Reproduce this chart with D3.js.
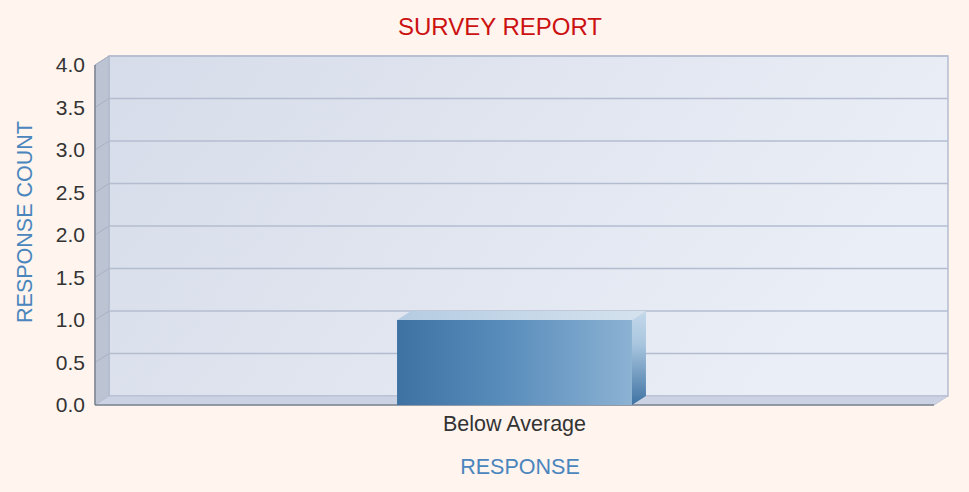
<!DOCTYPE html>
<html><head><meta charset="utf-8">
<script src="https://cdn.jsdelivr.net/npm/d3@7"></script>
<style>html,body{margin:0;padding:0;background:#fff4ee;}svg{display:block;}</style>
</head><body>
<svg id="c" width="969" height="492"></svg>
<script>
const categories = ["Below Average"];
const values = [1];
const yTicks = [0, 0.5, 1, 1.5, 2, 2.5, 3, 3.5, 4];
const title = "SURVEY REPORT";
const xTitle = "RESPONSE";
const yTitle = "RESPONSE COUNT";

const svg = d3.select("#c");
const W = 969, H = 492;
const L = 95, R = 934, T = 65, B = 405;
const DX = 14, DY = -9;
const FONT = "Liberation Sans, Arial, sans-serif";

svg.append("rect").attr("x",0).attr("y",0).attr("width",W).attr("height",H).attr("fill","#fff4ee");

const defs = svg.append("defs");
const gw = defs.append("linearGradient").attr("id","wall").attr("x1","0").attr("y1","0").attr("x2","1").attr("y2","0.3");
gw.append("stop").attr("offset","0").attr("stop-color","#d6dce9");
gw.append("stop").attr("offset","1").attr("stop-color","#eaeef6");
const gf = defs.append("linearGradient").attr("id","front").attr("x1","0").attr("y1","0").attr("x2","1").attr("y2","0");
gf.append("stop").attr("offset","0").attr("stop-color","#3d72a2");
gf.append("stop").attr("offset","0.45").attr("stop-color","#588cbb");
gf.append("stop").attr("offset","1").attr("stop-color","#8cb2d3");
const gt = defs.append("linearGradient").attr("id","top").attr("x1","0").attr("y1","0").attr("x2","1").attr("y2","0");
gt.append("stop").attr("offset","0").attr("stop-color","#b4cce2");
gt.append("stop").attr("offset","1").attr("stop-color","#d5e2ee");
const gs = defs.append("linearGradient").attr("id","side").attr("x1","0").attr("y1","0").attr("x2","0").attr("y2","1");
gs.append("stop").attr("offset","0").attr("stop-color","#c4d8ea");
gs.append("stop").attr("offset","0.35").attr("stop-color","#a9c6df");
gs.append("stop").attr("offset","1").attr("stop-color","#3f73a3");

const x = d3.scaleBand().domain(categories).range([L, R]).paddingInner(0.5625).paddingOuter(0.5625);
const y = d3.scaleLinear().domain([0, 4]).range([B, T]);

svg.append("rect").attr("x", L+DX).attr("y", T+DY).attr("width", R-L).attr("height", B-T)
  .attr("fill","url(#wall)").attr("stroke","#b6bdd0").attr("stroke-width",1.5);
svg.append("path").attr("d", `M${L},${T} L${L+DX},${T+DY} L${L+DX},${B+DY} L${L},${B} Z`)
  .attr("fill","#bcc3d3").attr("stroke","#aab2c5").attr("stroke-width",0.8);
svg.append("path").attr("d", `M${L},${B} L${L+DX},${B+DY} L${R+DX},${B+DY} L${R},${B} Z`)
  .attr("fill","#cbd2e3").attr("stroke","#b6bdd0").attr("stroke-width",0.8);

const grid = svg.append("g");
yTicks.filter(d=>d>0).forEach(t => {
  grid.append("line").attr("x1", L+DX).attr("x2", R+DX).attr("y1", y(t)+DY).attr("y2", y(t)+DY)
    .attr("stroke","#b4bcd0").attr("stroke-width",1.5);
  grid.append("line").attr("x1", L).attr("x2", L+DX).attr("y1", y(t)).attr("y2", y(t)+DY)
    .attr("stroke","#a9b1c4").attr("stroke-width",1);
});

svg.append("line").attr("x1",L).attr("x2",L).attr("y1",T).attr("y2",B).attr("stroke","#7d8390").attr("stroke-width",1.5);
svg.append("line").attr("x1",L).attr("x2",R).attr("y1",B).attr("y2",B).attr("stroke","#7d8390").attr("stroke-width",1.5);

const yAxis = d3.axisLeft(y).tickValues(yTicks).tickFormat(d3.format(".1f")).tickSize(0).tickPadding(10);
const ya = svg.append("g").attr("transform",`translate(${L},0)`).call(yAxis);
ya.select(".domain").remove();
ya.selectAll("text").attr("font-family",FONT).attr("font-size",21).attr("fill","#333");

const xAxis = d3.axisBottom(x).tickSize(0).tickPadding(11);
const xa = svg.append("g").attr("transform",`translate(0,${B})`).call(xAxis);
xa.select(".domain").remove();
xa.selectAll("text").attr("font-family",FONT).attr("font-size",21.5).attr("fill","#333");

const bars = svg.append("g");
categories.forEach((c,i) => {
  const x0 = x(c), x1 = x(c)+x.bandwidth(), yt = y(values[i]), yb = y(0);
  bars.append("path").attr("d", `M${x0},${yt} L${x0+DX},${yt+DY} L${x1+DX},${yt+DY} L${x1},${yt} Z`).attr("fill","url(#top)");
  bars.append("path").attr("d", `M${x1},${yt} L${x1+DX},${yt+DY} L${x1+DX},${yb+DY} L${x1},${yb} Z`).attr("fill","url(#side)");
  bars.append("rect").attr("x", x0).attr("y", yt).attr("width", x1-x0).attr("height", yb-yt).attr("fill","url(#front)");
});

svg.append("text").attr("x", 500).attr("y", 35).attr("text-anchor","middle")
  .attr("font-family",FONT).attr("font-size",24).attr("fill","#cc1111").text(title);
svg.append("text").attr("x", 520).attr("y", 474).attr("text-anchor","middle")
  .attr("font-family",FONT).attr("font-size",21.5).attr("fill","#4a86bd").text(xTitle);
svg.append("text").attr("transform", `translate(32,222) rotate(-90)`).attr("text-anchor","middle")
  .attr("font-family",FONT).attr("font-size",21.5).attr("fill","#4a86bd").text(yTitle);
</script>
</body></html>
